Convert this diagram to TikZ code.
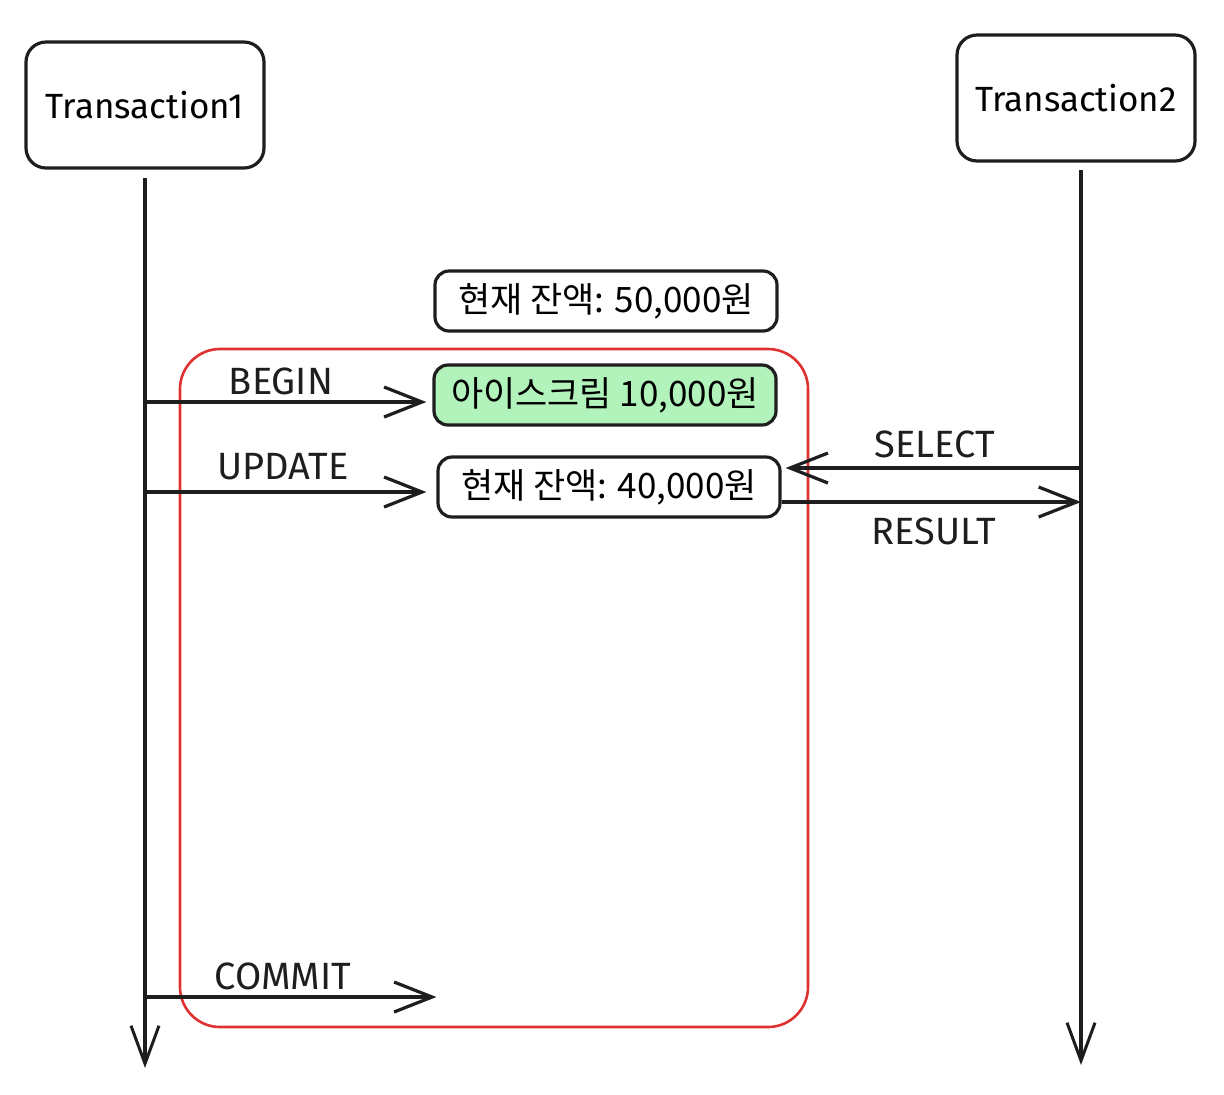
\documentclass[tikz,border=0pt]{standalone}
\usepackage{fontspec}
\setmainfont{Fira Sans}
\newfontfamily\kr{Noto Sans CJK KR}
\usetikzlibrary{arrows.meta,positioning}
\definecolor{exink}{RGB}{30,30,30}
\definecolor{exred}{RGB}{224,49,49}
\definecolor{exgreen}{RGB}{178,242,187}
\tikzset{
  txbox/.style={draw=exink, rounded corners=10pt, line width=1.6pt, fill=white,
                minimum width=119pt, minimum height=63pt,
                font=\fontsize{17.5}{20}\selectfont},
  valbox/.style={draw=exink, rounded corners=7pt, line width=1.6pt, fill=white,
                 minimum width=171pt, minimum height=30pt,
                 font=\kr\fontsize{17.5}{20}\selectfont},
  lifeline/.style={draw=exink, line width=1.7pt,
                   -{Straight Barb[length=19pt,width=14pt,line width=1.5pt]}},
  msg/.style={draw=exink, line width=1.9pt,
              -{Straight Barb[length=19pt,width=15pt,line width=1.6pt]}},
  msglabel/.style={font=\fontsize{19}{22}\selectfont, text=exink},
  txframe/.style={draw=exred, line width=1.3pt, rounded corners=20pt,
                  minimum width=314pt, minimum height=339pt},
}

\begin{document}
\begin{tikzpicture}[x=0.5pt, y=-0.5pt]
\useasboundingbox (0,0) rectangle (1224,1094);

% ================= transactions =================
\node[txbox] (t1) at (145,105) {Transaction1};
\node[txbox] (t2) at (1076,98) {Transaction2};

\coordinate (t1top) at (145,178);
\coordinate (t1bot) at (145,1068);
\coordinate (t2top) at (1081,170);
\coordinate (t2bot) at (1081,1065);

% ================= frame of transaction1 =================
\node[txframe] (frame) at (494,688) {};

\draw[lifeline] (t1top) -- (t1bot);
\draw[lifeline] (t2top) -- (t2bot);

% ================= balances =================
\node[valbox] (bal50) at (606,301) {현재 잔액: 50,000원};
\node[valbox, fill=exgreen] (cream) at (605,395) {아이스크림 10,000원};
\node[valbox] (bal40) at (609,487) {현재 잔액: 40,000원};

% ================= messages =================
\coordinate (m1) at (145,402);
\coordinate (m2) at (145,492);
\coordinate (m3) at (145,997);
\coordinate (m4) at (1081,468);
\coordinate (m5) at (1081,502);

\draw[msg] (m1) -- ([xshift=-3pt]cream.west |- m1);
\node[msglabel] (lbegin) at (281,381) {BEGIN};

\draw[msg] (m2) -- ([xshift=-5pt]bal40.west |- m2);
\node[msglabel] (lupdate) at (283,467) {UPDATE};

\draw[msg] (m3) -- (430,997 -| bal40.west) coordinate (m3end);
\node[msglabel] (lcommit) at (283,976) {COMMIT};

\draw[msg] (m4) -- ([xshift=2pt]bal40.east |- m4);
\node[msglabel] (lselect) at (935,444) {SELECT};

\draw[msg] (bal40.east |- m5) -- (m5);
\node[msglabel] (lresult) at (934,531) {RESULT};

\end{tikzpicture}
\end{document}
